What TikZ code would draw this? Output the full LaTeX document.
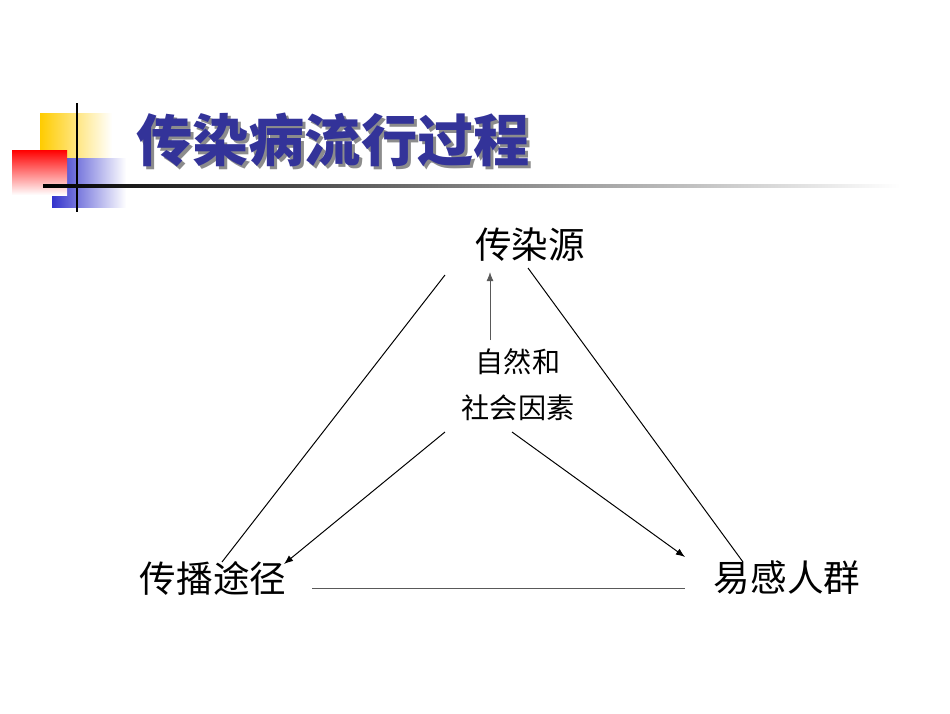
\documentclass[tikz,border=0pt]{standalone}
\usepackage{fontspec}
\newfontfamily\cjk{Noto Sans CJK SC}
\usetikzlibrary{arrows.meta,positioning}

\definecolor{titleblue}{RGB}{51,51,153}
\definecolor{logoyellow}{RGB}{255,204,0}
\definecolor{logoblue}{RGB}{51,51,204}

\begin{document}
\begin{tikzpicture}[x=0.025cm, y=-0.025cm,
					every node/.style={inner sep=0pt, font=\cjk\fontsize{26}{30}\selectfont},
					factor/.style={font=\cjk\fontsize{20}{24}\selectfont},
					link/.style={line width=0.7pt},
					push/.style={line width=0.7pt, -{Latex[length=6.5pt,width=5pt]}}]
	\useasboundingbox (0,0) rectangle (950,713);
	% logo squares
	\shade[left color=logoyellow, right color=white] (40,113) rectangle (112,160);
	\shade[left color=logoblue, right color=white] (52,158) rectangle (126,207);
	\shade[shading angle=225, top color=red, bottom color=white] (12,150) rectangle (67,195);
	\draw[line width=2pt] (77,103) -- (77,212);
	\shade[left color=black, right color=white] (43,184.5) rectangle (900,187.5);
	% title
	\node[text=black!45, font=\cjk\bfseries\fontsize{40}{48}\selectfont] at (336,143) {传染病流行过程};
	\node[text=titleblue, font=\cjk\bfseries\fontsize{40}{48}\selectfont] (title) at (333,140) {传染病流行过程};
	% corners
	\node (source) at (530,245) {传染源};
	\node (route) at (213,578) {传播途径};
	\node (host) at (787,578) {易感人群};
	\node[factor] (nature) at (518,362) {自然和};
	\node[factor] (society) at (518,408) {社会因素};
	% triangle ends
	\coordinate (srcL) at (445,275);
	\coordinate (srcR) at (528,268);
	\coordinate (routeT) at (222,562);
	\coordinate (routeR) at (312,588);
	\coordinate (hostT) at (743,562);
	\coordinate (hostL) at (685,588);
	\draw[link] (srcL) -- (routeT);
	\draw[link] (srcR) -- (hostT);
	\draw[link, black!65] (routeR) -- (hostL);
	% factors
	\draw[push, black!65] (490,340) -- (490,272);
	\draw[push] (445,432) -- (284,564);
	\draw[push] (512,432) -- (685,557);
\end{tikzpicture}
\end{document}
